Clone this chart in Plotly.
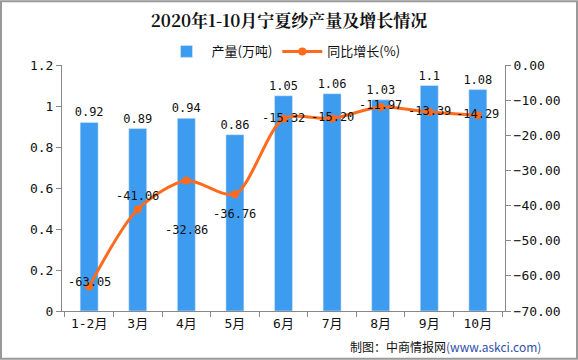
import plotly.graph_objects as go

categories = ["1-2月", "3月", "4月", "5月", "6月", "7月", "8月", "9月", "10月"]
output = [0.92, 0.89, 0.94, 0.86, 1.05, 1.06, 1.03, 1.1, 1.08]
growth = [-63.05, -41.06, -32.86, -36.76, -15.32, -15.20, -11.97, -13.39, -14.29]
output_labels = ["0.92", "0.89", "0.94", "0.86", "1.05", "1.06", "1.03", "1.1", "1.08"]
growth_labels = ["-63.05", "-41.06", "-32.86", "-36.76", "-15.32", "-15.20", "-11.97", "-13.39", "-14.29"]

# label vertical offsets (px) for the growth labels, as drawn in the source chart
label_shift = [5, 13, -50, -20, 1, 1, 2, 1, 1]

FONT = "DejaVu Sans Mono, Noto Sans CJK SC"
BLUE = "#3E9CF0"
ORANGE = "#FF6A1C"

fig = go.Figure()
fig.add_trace(go.Bar(
    x=categories, y=output, name="产量(万吨)", marker_color=BLUE,
    text=output_labels, textposition="outside", cliponaxis=False, constraintext="none",
    textfont=dict(size=12, color="#111", family=FONT),
))
fig.add_trace(go.Scatter(
    x=categories, y=growth, name="同比增长(%)", yaxis="y2",
    mode="lines+markers", line=dict(color=ORANGE, width=3, shape="spline", smoothing=0.8),
    marker=dict(size=8, color=ORANGE), cliponaxis=False,
))

annotations = [
    dict(x=c, y=v, xref="x", yref="y2", text=t, showarrow=False, yshift=s,
         xanchor="center", yanchor="middle",
         font=dict(size=12, color="#111", family=FONT))
    for c, v, t, s in zip(categories, growth, growth_labels, label_shift)
]
annotations.append(dict(text="制图：中商情报网<span style='color:#2F4FA8'>(www.askci.com)</span>",
                        xref="paper", yref="paper", x=1+38/443, y=-36/247, xanchor="right",
                        yanchor="middle", showarrow=False,
                        font=dict(size=12, color="#111", family="Noto Sans CJK SC")))

fig.update_layout(
    width=578, height=360,
    margin=dict(l=62, r=73, t=65, b=49),
    paper_bgcolor="white", plot_bgcolor="white",
    bargap=0.63,
    title=dict(text="<b>2020年1-10月宁夏纱产量及增长情况</b>", x=0.5, xanchor="center",
               y=0.942, yanchor="middle",
               font=dict(size=17, color="#111", family="Noto Serif CJK SC, Noto Sans CJK SC")),
    legend=dict(orientation="h", x=0.5, xanchor="center", y=1.055, yanchor="middle",
                font=dict(size=13, color="#111", family="Noto Sans CJK SC"),
                itemwidth=40, bgcolor="rgba(0,0,0,0)"),
    font=dict(family=FONT, size=13, color="#111"),
    xaxis=dict(showline=True, linecolor="#888", ticks="outside", tickcolor="#888",
               ticklen=5, tickson="boundaries", showgrid=False,
               tickfont=dict(size=13, family=FONT)),
    yaxis=dict(range=[0, 1.2], dtick=0.2, showline=True, linecolor="#888", ticks="outside",
               tickcolor="#888", ticklen=5, showgrid=False, zeroline=False,
               tickfont=dict(size=13, family=FONT)),
    yaxis2=dict(range=[-70, 0], dtick=10, overlaying="y", side="right", showline=True,
                linecolor="#888", ticks="outside", tickcolor="#888", ticklen=5,
                tickformat=".2f", showgrid=False, zeroline=False,
                tickfont=dict(size=13, family=FONT)),
    shapes=[dict(type="rect", xref="paper", yref="paper", x0=-61/443, x1=1+72/443,
                 y0=-48/247, y1=1+64/247, line=dict(color="#999", width=2))],
    annotations=annotations,
)

fig.write_html("out.html", config={"displayModeBar": False},
               post_script="document.body.style.margin='0';")
